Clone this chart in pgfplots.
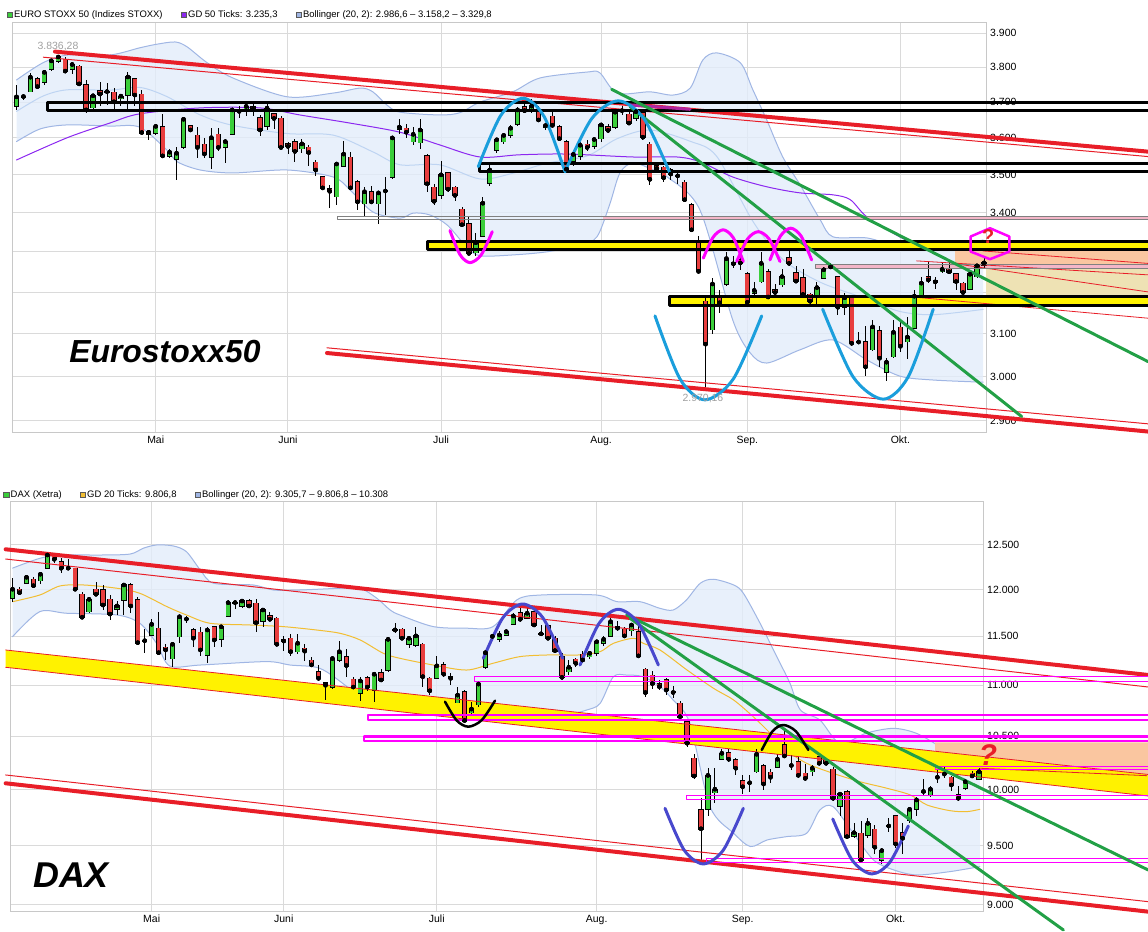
\documentclass[border=0pt]{standalone}
\usepackage{fontspec}
\setmainfont{Liberation Sans}
\usepackage{pgfplots}
\usepackage{pgfplotstable}
\pgfplotsset{compat=1.18}
\usepgfplotslibrary{fillbetween}

\definecolor{cgreen}{RGB}{58,206,58}
\definecolor{cred}{RGB}{232,62,62}
\definecolor{lred}{RGB}{232,30,40}
\definecolor{bandfill}{RGB}{226,236,250}
\definecolor{bandline}{RGB}{160,182,228}
\definecolor{midline}{RGB}{190,212,242}
\definecolor{gdpurple}{RGB}{140,40,240}
\definecolor{gdyellow}{RGB}{242,190,50}
\definecolor{yel}{RGB}{255,242,0}
\definecolor{mag}{RGB}{255,0,255}
\definecolor{tgreen}{RGB}{34,160,70}
\definecolor{lblue}{RGB}{26,158,220}
\definecolor{dblue}{RGB}{72,72,205}
\definecolor{peach}{RGB}{250,198,160}
\definecolor{tan}{RGB}{238,226,180}
\definecolor{pinkf}{RGB}{244,182,200}
\definecolor{gridc}{RGB}{218,218,218}
\definecolor{framec}{RGB}{200,200,200}
\definecolor{leggrey}{RGB}{160,160,160}

\newcommand{\tickfont}{\fontsize{10.5}{12}\selectfont}
\newcommand{\legfont}{\fontsize{9.5}{11}\selectfont}

% Euro Stoxx 50, daily candles (index, open, high, low, close)
\pgfplotstableread{
i o h l c
0 3688 3750 3678 3715
1 3713 3722 3706 3716
2 3730 3784 3728 3771
3 3766 3772 3740 3744
4 3756 3792 3750 3785
5 3794 3823 3790 3819
6 3818 3836 3812 3830
7 3823 3831 3785 3789
8 3794 3812 3780 3808
9 3803 3805 3748 3752
10 3749 3762 3670 3678
11 3684 3720 3682 3718
12 3732 3757 3688 3723
13 3728 3755 3691 3730
14 3728 3739 3673 3701
15 3710 3720 3690 3717
16 3720 3785 3681 3772
17 3766 3770 3690 3720
18 3722 3735 3610 3615
19 3610 3622 3595 3616
20 3614 3640 3607 3632
21 3630 3667 3549 3551
22 3551 3570 3545 3561
23 3542 3575 3486 3558
24 3574 3655 3570 3652
25 3634 3636 3617 3622
26 3607 3630 3545 3574
27 3582 3600 3545 3556
28 3547 3627 3515 3601
29 3610 3627 3565 3574
30 3574 3598 3533 3590
31 3610 3680 3608 3678
32 3676 3688 3654 3674
33 3681 3694 3661 3688
34 3687 3694 3660 3680
35 3656 3665 3605 3622
36 3632 3695 3622 3683
37 3667 3670 3624 3654
38 3654 3662 3570 3574
39 3584 3588 3557 3577
40 3590 3598 3535 3563
41 3571 3598 3560 3584
42 3574 3580 3523 3560
43 3534 3540 3498 3513
44 3495 3497 3462 3465
45 3462 3472 3411 3456
46 3442 3532 3420 3529
47 3524 3591 3520 3556
48 3547 3562 3462 3465
49 3481 3485 3407 3428
50 3424 3468 3392 3455
51 3455 3470 3425 3428
52 3424 3454 3372 3452
53 3455 3495 3394 3457
54 3494 3603 3490 3600
55 3624 3652 3610 3630
56 3627 3640 3600 3616
57 3590 3630 3580 3610
58 3587 3652 3571 3622
59 3552 3555 3455 3476
60 3467 3475 3420 3430
61 3446 3536 3436 3500
62 3505 3507 3455 3462
63 3467 3470 3430 3445
64 3409 3415 3362 3369
65 3372 3390 3292 3296
66 3298 3347 3290 3323
67 3340 3440 3338 3425
68 3477 3530 3470 3513
69 3567 3600 3560 3595
70 3590 3612 3582 3607
71 3607 3635 3600 3627
72 3638 3685 3632 3678
73 3686 3705 3668 3676
74 3677 3708 3668 3689
75 3678 3690 3648 3650
76 3628 3640 3622 3634
77 3660 3678 3632 3635
78 3630 3635 3595 3598
79 3590 3595 3504 3515
80 3536 3560 3525 3555
81 3550 3590 3540 3580
82 3583 3595 3565 3574
83 3577 3600 3570 3596
84 3598 3640 3590 3636
85 3630 3640 3615 3621
86 3630 3680 3625 3672
87 3679 3690 3665 3676
88 3666 3672 3635 3641
89 3655 3680 3648 3673
90 3669 3675 3595 3602
91 3582 3590 3473 3488
92 3524 3535 3505 3517
93 3520 3525 3480 3492
94 3513 3518 3485 3502
95 3499 3510 3475 3497
96 3480 3485 3430 3434
97 3421 3425 3350 3356
98 3323 3340 3247 3251
99 3177 3185 2970 3075
100 3109 3235 3100 3220
101 3188 3205 3150 3174
102 3220 3300 3215 3283
103 3272 3290 3260 3270
104 3280 3300 3255 3272
105 3245 3250 3165 3175
106 3198 3225 3190 3204
107 3226 3300 3222 3271
108 3250 3258 3185 3188
109 3205 3220 3193 3199
110 3218 3258 3213 3238
111 3284 3305 3265 3271
112 3248 3265 3222 3227
113 3235 3256 3188 3194
114 3194 3198 3167 3178
115 3186 3226 3167 3211
116 3235 3262 3232 3255
117 3266 3272 3258 3262
118 3238 3240 3145 3163
119 3163 3198 3145 3186
120 3190 3192 3070 3077
121 3082 3105 3077 3080
122 3081 3117 3000 3022
123 3062 3133 3058 3116
124 3106 3117 3022 3042
125 3010 3042 2990 3033
126 3046 3133 3042 3103
127 3115 3133 3056 3070
128 3081 3140 3040 3092
129 3113 3205 3110 3190
130 3190 3237 3185 3222
131 3237 3275 3222 3230
132 3227 3238 3208 3225
133 3250 3275 3247 3256
134 3256 3275 3247 3250
135 3244 3247 3205 3226
136 3221 3225 3188 3199
137 3207 3250 3205 3244
138 3238 3270 3235 3265
139 3266 3285 3260 3272
}\sxdata

% DAX (Xetra), daily candles
\pgfplotstableread{
i o h l c
0 11906 12126 11870 12005
1 12005 12030 11960 11968
2 12071 12160 12060 12137
3 12115 12140 12020 12044
4 12100 12195 12060 12171
5 12237 12390 12230 12386
6 12375 12390 12300 12338
7 12312 12350 12188 12237
8 12235 12340 12226 12238
9 12237 12240 11995 12005
10 11950 11980 11690 11702
11 11762 11900 11745 11895
12 12005 12088 11930 11950
13 11997 12050 11780 11834
14 11895 11940 11675 11737
15 11787 11880 11725 11823
16 11888 12070 11725 12052
17 12052 12070 11750 11823
18 11888 11920 11410 11434
19 11450 11580 11330 11455
20 11515 11680 11500 11627
21 11584 11755 11325 11330
22 11384 11425 11250 11358
23 11270 11430 11185 11417
24 11497 11715 11430 11708
25 11680 11720 11640 11683
26 11567 11590 11390 11480
27 11543 11600 11300 11358
28 11306 11600 11220 11567
29 11601 11605 11390 11462
30 11469 11605 11390 11601
31 11716 11890 11700 11859
32 11857 11890 11790 11860
33 11823 11890 11800 11877
34 11880 11900 11800 11823
35 11852 11900 11550 11644
36 11662 11800 11600 11780
37 11716 11760 11660 11680
38 11691 11700 11400 11417
39 11469 11500 11350 11451
40 11480 11520 11300 11340
41 11340 11520 11320 11428
42 11375 11420 11240 11345
43 11250 11290 11190 11205
44 11135 11200 11040 11068
45 11025 11030 10850 10998
46 10980 11290 10960 11270
47 11255 11450 11230 11340
48 11290 11370 11080 11198
49 11058 11080 10970 10980
50 10918 11080 10840 11042
51 11074 11090 10940 10980
52 10951 11120 10830 11110
53 11125 11160 11030 11051
54 11152 11480 11130 11469
55 11565 11640 11530 11568
56 11574 11590 11460 11480
57 11417 11500 11380 11480
58 11410 11600 11390 11505
59 11417 11430 10980 11085
60 11068 11085 10900 10943
61 11068 11300 11060 11195
62 11205 11230 11080 11110
63 11085 11120 11000 11068
64 10825 10980 10820 10900
65 10934 10950 10630 10650
66 10727 10830 10700 10762
67 10805 11030 10780 11010
68 11180 11340 11160 11330
69 11495 11520 11470 11500
70 11469 11560 11440 11515
71 11515 11580 11500 11550
72 11630 11745 11620 11716
73 11752 11800 11660 11680
74 11691 11800 11680 11745
75 11762 11780 11600 11620
76 11523 11620 11500 11527
77 11609 11620 11460 11480
78 11480 11500 11330 11351
79 11290 11330 11050 11078
80 11135 11250 11100 11180
81 11263 11280 11180 11220
82 11314 11350 11220 11255
83 11290 11350 11260 11324
84 11324 11460 11300 11444
85 11427 11500 11400 11469
86 11505 11700 11490 11655
87 11603 11660 11560 11586
88 11574 11600 11480 11505
89 11560 11640 11500 11620
90 11550 11610 11280 11297
91 11160 11170 10880 10925
92 11100 11140 10960 11015
93 11015 11050 10950 10985
94 11051 11070 10900 10951
95 10930 10990 10870 10926
96 10820 10840 10670 10688
97 10640 10660 10400 10432
98 10290 10330 10100 10124
99 9815 9920 9338 9648
100 9821 10200 9760 10130
101 9971 10200 9880 10003
102 10280 10380 10270 10336
103 10342 10380 10250 10280
104 10273 10290 10130 10196
105 10078 10130 9960 10025
106 10060 10130 9980 10062
107 10164 10380 10150 10327
108 10220 10240 10000 10050
109 10158 10190 10060 10112
110 10205 10330 10200 10280
111 10415 10560 10300 10311
112 10220 10320 10180 10222
113 10257 10300 10110 10130
114 10149 10240 10090 10102
115 10164 10230 10120 10196
116 10305 10320 10230 10242
117 10273 10290 10230 10242
118 10186 10210 9900 9920
119 9850 9980 9760 9958
120 9980 9995 9560 9579
121 9585 9700 9570 9614
122 9609 9720 9350 9378
123 9594 9740 9570 9696
124 9644 9680 9430 9487
125 9378 9480 9340 9458
126 9670 9740 9620 9673
127 9764 9770 9480 9515
128 9614 9700 9430 9565
129 9726 9840 9700 9821
130 9821 9930 9760 9905
131 9978 10100 9950 9982
132 9951 10030 9930 10003
133 10110 10190 10060 10112
134 10140 10210 10110 10142
135 10112 10120 9990 10041
136 9951 10030 9900 9920
137 10012 10100 10000 10071
138 10149 10170 10110 10124
139 10094 10200 10090 10164
}\daxdata

\pgfplotsset{
  wick/.style={forget plot, only marks, mark=none,
    error bars/y dir=both, error bars/y explicit, error bars/error mark=none,
    error bars/error bar style={draw=black, line width=0.8bp}},
  bodyline/.style={forget plot, only marks, mark=none,
    error bars/y dir=both, error bars/y explicit, error bars/error mark=none,
    error bars/error bar style={draw=black, line width=5.3bp}},
  upbody/.style={forget plot, only marks, mark=none,
    restrict expr to domain={\thisrow{c}-\thisrow{o}}{0.5:100000},
    error bars/y dir=both, error bars/y explicit, error bars/error mark=none,
    error bars/error bar style={draw=cgreen, line width=3.7bp}},
  downbody/.style={forget plot, only marks, mark=none,
    restrict expr to domain={\thisrow{o}-\thisrow{c}}{0.5:100000},
    error bars/y dir=both, error bars/y explicit, error bars/error mark=none,
    error bars/error bar style={draw=cred, line width=3.7bp}},
  ann/.style={forget plot, line join=round, line cap=round},
}

\begin{document}
\begin{tikzpicture}

% ---------------- Euro Stoxx 50 ----------------
\begin{axis}[
  at={(12bp,499bp)}, anchor=south west, scale only axis, width=974bp, height=410bp,
  clip=false, enlargelimits=false, ymode=log,
  xmin=-0.6466, xmax=139.3, ymin=2873.2, ymax=3930.8,
  axis line style={draw=framec, line width=1bp},
  grid=major, major grid style={draw=gridc, line width=1bp},
  tick style={draw=none}, major tick length=0pt,
  xtick={20,39,61,84,105,127},
  xticklabels={Mai,Juni,Juli,Aug.,Sep.,Okt.},
  ytick={2900,3000,3100,3200,3300,3400,3500,3600,3700,3800,3900},
  yticklabels={2.900,3.000,3.100,3.200,3.300,3.400,3.500,3.600,3.700,3.800,3.900},
  yticklabel pos=right,
  xticklabel style={font=\tickfont, inner sep=0pt, yshift=-3bp},
  yticklabel style={font=\tickfont, inner sep=0pt, xshift=4bp},
  legend columns=3,
  legend style={at={(-0.0054,1.0195)}, anchor=west, draw=none, fill=none, inner sep=0pt,
    font=\legfont, /tikz/every even column/.append style={column sep=17bp},
    nodes={inner sep=1.3bp}},
  legend image code/.code={\draw[#1, line width=0.7bp] (0bp,-2.6bp) rectangle (5.2bp,2.6bp);},
]
\addlegendimage{fill=cgreen, draw=black!65}
\addlegendentry{EURO STOXX 50 (Indizes STOXX)}
\addlegendimage{fill=gdpurple, draw=black!65}
\addlegendentry{GD 50 Ticks: 3.235,3}
\addlegendimage{fill=bandline, draw=black!65}
\addlegendentry{Bollinger (20, 2): 2.986,6 -- 3.158,2 -- 3.329,8}

% Bollinger band
\addplot[ann, name path=su, draw=bandline, line width=1bp, smooth] coordinates {
(0,3763) (3.8,3813) (7.3,3836) (13.4,3836) (17.7,3857) (20.2,3868) (22.8,3874) (24.5,3860)
(27.4,3813) (31.1,3769) (38.9,3715) (45.5,3726) (49.4,3740) (51.2,3729) (53.2,3692) (55.1,3672)
(60.8,3664) (63.7,3670) (66.6,3700) (71.3,3729) (75.2,3769) (82.0,3786) (83.8,3784) (86.3,3726)
(91.0,3729) (94.3,3720) (96.8,3740) (98.6,3821) (100.6,3842) (104.0,3813) (105.8,3735) (107.8,3650)
(110.1,3548) (112.6,3473) (115.5,3381) (117.3,3338) (122.2,3335) (126.9,3312) (130.8,3305)
(134.1,3312) (138.9,3330)};
\addplot[ann, name path=sl, draw=bandline, line width=1bp, smooth] coordinates {
(0,3590) (3.4,3625) (7.3,3636) (13.4,3633) (17.7,3630) (21.6,3567) (23.1,3535) (26.4,3513)
(31.1,3505) (38.9,3513) (45.5,3494) (47.9,3460) (51.2,3402) (55.1,3386) (57.0,3399) (59.4,3394)
(61.9,3368) (64.7,3312) (66.6,3290) (71.3,3292) (76.2,3300) (81.0,3317) (83.4,3338) (85.2,3420)
(86.7,3505) (88.6,3532) (91.5,3513) (93.5,3494) (98.2,3407) (102.9,3133) (105.4,3055) (107.8,3031)
(112.6,3062) (117.3,3085) (122.2,3038) (126.9,3001) (131.7,2992) (138.9,2987)};
\addplot[forget plot, fill=bandfill, fill opacity=0.8] fill between[of=su and sl];
\addplot[ann, draw=midline, line width=1bp, smooth] coordinates {
(0,3674) (3.8,3717) (7.3,3735) (13.4,3734) (17.7,3742) (21.6,3716) (26.4,3664) (31.1,3635)
(38.9,3612) (45.5,3608) (51.2,3562) (55.1,3527) (60.8,3527) (66.6,3489) (71.3,3504) (76.2,3531)
(82.0,3551) (86.3,3598) (91.0,3622) (96.8,3591) (100.6,3550) (105.8,3378) (110.1,3281)
(115.5,3224) (122.2,3183) (126.9,3153) (131.7,3145) (138.9,3158)};
\addplot[ann, draw=gdpurple, line width=1bp, smooth] coordinates {
(0,3540) (7.3,3601) (13.4,3641) (17.7,3667) (26.4,3684) (35.0,3684) (40.7,3664) (47.9,3641)
(55.1,3616) (60.8,3581) (66.6,3548) (72.3,3554) (79.1,3556) (88.6,3548) (94.9,3548) (98.2,3535)
(102.9,3494) (107.8,3468) (112.6,3452) (117.3,3447) (119.8,3434) (122.2,3389) (126.9,3338)
(131.7,3298) (136.6,3255) (138.9,3237)};

% shaded zones
\addplot[ann, fill=peach, draw=none] coordinates {(134.84,3304.0) (162.57,3304.0) (162.57,3268.9) (134.84,3268.9)} -- cycle;
\addplot[ann, fill=tan, draw=none] coordinates {(139.3,3258.9) (162.57,3258.9) (162.57,3193.0) (139.3,3193.0)} -- cycle;
\addplot[ann, fill=pinkf, draw=none] coordinates {(84.27,3390.0) (162.57,3390.0) (162.57,3381.4) (84.27,3381.4)} -- cycle;
\addplot[ann, fill=pinkf, draw=none] coordinates {(114.73,3267.1) (162.57,3267.1) (162.57,3258.9) (114.73,3258.9)} -- cycle;
\addplot[ann, fill=yel, draw=none] coordinates {(59.08,3325.1) (162.57,3325.1) (162.57,3305.5) (59.08,3305.5)} -- cycle;
\addplot[ann, fill=yel, draw=none] coordinates {(93.79,3188.2) (162.57,3188.2) (162.57,3166.8) (93.79,3166.8)} -- cycle;

% candles
\addplot[wick] table[x=i, y=c, y error plus expr=\thisrow{h}-\thisrow{c}, y error minus expr=\thisrow{c}-\thisrow{l}] {\sxdata};
\addplot[bodyline] table[x=i, y=c, y error plus expr={max(\thisrow{o},\thisrow{c})*1.0005-\thisrow{c}}, y error minus expr={\thisrow{c}-min(\thisrow{o},\thisrow{c})*0.9995}] {\sxdata};
\addplot[upbody] table[x=i, y=c, y error plus expr=0, y error minus expr=\thisrow{c}-\thisrow{o}] {\sxdata};
\addplot[downbody] table[x=i, y=c, y error plus expr=\thisrow{o}-\thisrow{c}, y error minus expr=0] {\sxdata};

% channel lines
\addplot[ann, draw=lred, line width=4bp] coordinates {(5.53,3845.5) (162.57,3562.6)};
\addplot[ann, draw=lred, line width=1bp] coordinates {(3.85,3829.1) (162.57,3549.0)};
\addplot[ann, draw=lred, line width=4bp] coordinates {(44.61,3054.3) (162.57,2876.5)};
\addplot[ann, draw=lred, line width=1bp] coordinates {(44.61,3066.5) (162.57,2893.4)};
\addplot[ann, draw=lred, line width=0.8bp] coordinates {(138.86,3302.3) (162.57,3270.9)};
\addplot[ann, draw=lred, line width=0.8bp] coordinates {(129.34,3277.1) (162.57,3242.2)};
\addplot[ann, draw=lred, line width=0.8bp] coordinates {(135.09,3269.6) (162.57,3200.4)};
\addplot[ann, draw=lred, line width=0.8bp] coordinates {(129.81,3186.5) (162.57,3136.7)};
% horizontal zones
\addplot[ann, draw=gray, line width=1bp] coordinates {(162.57,3390.0) (46.19,3390.0) (46.19,3381.4) (162.57,3381.4)};
\addplot[ann, draw=gray, line width=1bp] coordinates {(162.57,3267.1) (114.73,3267.1) (114.73,3258.9) (162.57,3258.9)};
\addplot[ann, draw=black, line width=3bp, line cap=butt] coordinates {(162.57,3699.7) (4.43,3699.7) (4.43,3677.1) (162.57,3677.1)};
\addplot[ann, draw=black, line width=3bp, line cap=butt] coordinates {(162.57,3531.2) (66.59,3531.2) (66.59,3509.6) (162.57,3509.6)};
\addplot[ann, draw=black, line width=3bp, line cap=butt] coordinates {(162.57,3325.1) (59.08,3325.1) (59.08,3305.5) (162.57,3305.5)};
\addplot[ann, draw=black, line width=3bp, line cap=butt] coordinates {(162.57,3188.2) (93.79,3188.2) (93.79,3166.8) (162.57,3166.8)};
% trend lines
\addplot[ann, draw=gdpurple!60!lred, line width=3bp] coordinates {(88.15,3692.1) (96.77,3679.9)};
\addplot[ann, draw=tgreen, line width=3bp] coordinates {(85.52,3736.6) (162.57,3034.5)};
\addplot[ann, draw=tgreen, line width=3bp] coordinates {(88.15,3687.3) (144.43,2909.6)};
% pattern sketches
\addplot[ann, draw=lblue, line width=3bp, smooth] coordinates {(66.35,3522.0) (69.58,3662.8) (72.82,3711.0) (75.82,3659.2) (78.81,3508.6)};
\addplot[ann, draw=lblue, line width=3bp, smooth] coordinates {(78.81,3508.6) (82.64,3653.6) (86.47,3703.4) (90.18,3652.5) (93.89,3504.3)};
\addplot[ann, draw=lblue, line width=3bp, smooth] coordinates {(91.74,3142.2) (95.33,2994.6) (98.92,2946.9) (103.0,2994.6) (107.07,3142.2)};
\addplot[ann, draw=lblue, line width=3bp, smooth] coordinates {(115.83,3158.4) (120.19,2999.6) (124.54,2948.5) (128.13,2999.6) (131.72,3158.4)};
\addplot[ann, draw=mag, line width=3bp, smooth] coordinates {(62.28,3353.9) (63.72,3292.9) (65.16,3272.9) (66.77,3292.2) (68.36,3351.3)};
\addplot[ann, draw=mag, line width=3bp, smooth] coordinates {(98.68,3283.9) (100.11,3337.5) (101.55,3355.7) (102.99,3335.5) (104.43,3275.4)};
\addplot[ann, draw=mag, line width=3bp, smooth] coordinates {(103.48,3275.4) (105.03,3332.2) (106.58,3351.3) (108.14,3332.2) (109.70,3275.4)};
\addplot[ann, draw=mag, line width=3bp, smooth] coordinates {(108.26,3279.6) (109.75,3339.8) (111.24,3360.0) (112.74,3339.8) (114.25,3279.6)};
\addplot[ann, draw=mag, line width=2.5bp] coordinates {(137.10,3338.6) (139.87,3360.0) (142.64,3338.6) (142.64,3300.5) (139.87,3281.3) (137.10,3300.5)} -- cycle;

\node[font=\fontsize{20}{20}\selectfont\bfseries, text=lred, inner sep=0pt] at (axis cs:139.6,3338) {?};
\node[font=\tickfont, text=leggrey] at (axis cs:5.96,3862) {3.836,28};
\node[font=\tickfont, text=leggrey] at (axis cs:98.63,2949) {2.970,16};
\node[font=\fontsize{32}{34}\selectfont\bfseries\itshape] at (axis cs:21.34,3057) {Eurostoxx50};
\end{axis}

% ---------------- DAX ----------------
\begin{axis}[
  at={(10bp,20bp)}, anchor=south west, scale only axis, width=973bp, height=410bp,
  clip=false, enlargelimits=false, ymode=log,
  xmin=-0.374, xmax=139.56, ymin=8942.6, ymax=13000,
  axis line style={draw=framec, line width=1bp},
  grid=major, major grid style={draw=gridc, line width=1bp},
  tick style={draw=none}, major tick length=0pt,
  xtick={20,39,61,84,105,127},
  xticklabels={Mai,Juni,Juli,Aug.,Sep.,Okt.},
  ytick={9000,9500,10000,10500,11000,11500,12000,12500},
  yticklabels={9.000,9.500,10.000,10.500,11.000,11.500,12.000,12.500},
  yticklabel pos=right,
  xticklabel style={font=\tickfont, inner sep=0pt, yshift=-3bp},
  yticklabel style={font=\tickfont, inner sep=0pt, xshift=4bp},
  legend columns=3,
  legend style={at={(-0.0069,1.0171)}, anchor=west, draw=none, fill=none, inner sep=0pt,
    font=\legfont, /tikz/every even column/.append style={column sep=17bp},
    nodes={inner sep=1.3bp}},
  legend image code/.code={\draw[#1, line width=0.7bp] (0bp,-2.6bp) rectangle (5.2bp,2.6bp);},
]
\addlegendimage{fill=cgreen, draw=black!65}
\addlegendentry{DAX (Xetra)}
\addlegendimage{fill=gdyellow, draw=black!65}
\addlegendentry{GD 20 Ticks: 9.806,8}
\addlegendimage{fill=bandline, draw=black!65}
\addlegendentry{Bollinger (20, 2): 9.305,7 -- 9.806,8 -- 10.308}

\addplot[ann, name path=du, draw=bandline, line width=1bp, smooth] coordinates {
(0,12239) (3.9,12349) (6.8,12386) (12.6,12386) (16.9,12397) (18.8,12463) (20.7,12500) (23.1,12489)
(25.0,12424) (27.0,12218) (28.9,12071) (34.6,12052) (37.5,11997) (41.3,11997) (47.1,12016)
(50.0,12016) (52.4,11906) (54.3,11780) (55.7,11727) (60.5,11603) (65.3,11586) (69.1,11603)
(72.5,11888) (75.9,11942) (84.0,11942) (86.9,11870) (90.2,11870) (93.1,11798) (95.0,11780)
(96.9,11888) (98.9,12071) (100.8,12115) (103.7,12052) (105.1,11961) (107.5,11638) (109.9,11290)
(111.8,11018) (113.3,10753) (116.1,10655) (119.0,10430) (122.8,10529) (126.7,10574) (130.0,10526)
(133.4,10398) (136.8,10257) (139.1,10304)};
\addplot[ann, name path=dl, draw=bandline, line width=1bp, smooth] coordinates {
(0,11497) (3.9,11762) (7.8,11745) (15.0,11727) (18.3,11638) (20.7,11427) (22.6,11193) (27.0,11203)
(36.5,11238) (39.9,11203) (44.2,11169) (48.1,10984) (50.9,10818) (53.3,10802) (55.7,10851)
(60.5,10753) (65.3,10672) (71.1,10655) (75.9,10672) (79.7,10704) (82.6,10753) (84.5,10818)
(86.4,11084) (88.3,11101) (90.7,11084) (93.1,10984) (95.0,10851) (97.4,10623) (100.3,9845)
(103.7,9609) (106.1,9493) (108.5,9550) (111.3,9579) (114.2,9609) (116.1,9815) (118.0,9845)
(120.9,9609) (123.8,9378) (126.7,9293) (130.0,9250) (134.8,9278) (139.1,9321)};
\addplot[forget plot, fill=bandfill, fill opacity=0.8] fill between[of=du and dl];
\addplot[ann, draw=gdyellow, line width=1bp, smooth] coordinates {
(0,11870) (3.9,11942) (6.8,12041) (10.2,12052) (15.0,12016) (18.3,11961) (22.2,11816) (25.0,11727)
(28.4,11638) (34.1,11620) (38.9,11603) (43.7,11567) (47.1,11532) (50.0,11462) (53.3,11324)
(55.7,11272) (60.5,11203) (65.3,11152) (69.1,11221) (73.0,11290) (77.3,11307) (81.6,11307)
(84.5,11341) (86.4,11427) (89.3,11480) (90.7,11427) (93.1,11358) (97.0,11152) (100.8,10968)
(103.7,10851) (106.5,10688) (108.5,10558) (111.3,10367) (114.2,10242) (118.0,10149) (121.9,10071)
(125.7,10012) (129.1,9951) (131.5,9860) (134.8,9809) (137.2,9800) (139.1,9821)};

% shaded zones
\addplot[ann, fill=yel, draw=none] coordinates {(-1.0,11358) (163.30,10138.4) (163.30,9941.3) (-1.0,11180)} -- cycle;
\addplot[ann, fill=peach, draw=none] coordinates {(132.66,10440.5) (163.30,10440.5) (163.30,10138.4) (132.66,10355.1)} -- cycle;

% candles
\addplot[wick] table[x=i, y=c, y error plus expr=\thisrow{h}-\thisrow{c}, y error minus expr=\thisrow{c}-\thisrow{l}] {\daxdata};
\addplot[bodyline] table[x=i, y=c, y error plus expr={max(\thisrow{o},\thisrow{c})*1.0006-\thisrow{c}}, y error minus expr={\thisrow{c}-min(\thisrow{o},\thisrow{c})*0.9994}] {\daxdata};
\addplot[upbody] table[x=i, y=c, y error plus expr=0, y error minus expr=\thisrow{c}-\thisrow{o}] {\daxdata};
\addplot[downbody] table[x=i, y=c, y error plus expr=\thisrow{o}-\thisrow{c}, y error minus expr=0] {\daxdata};

% channel lines
\addplot[ann, draw=lred, line width=4bp] coordinates {(-1.0,12451) (163.30,11101.8)};
\addplot[ann, draw=lred, line width=1bp] coordinates {(-1.0,12341) (163.30,10980.9)};
\addplot[ann, draw=lred, line width=4bp] coordinates {(-1.0,10057.1) (163.30,8945.5)};
\addplot[ann, draw=lred, line width=1bp] coordinates {(-1.0,10133.7) (163.30,9027.4)};
\addplot[ann, draw=lred, line width=0.8bp] coordinates {(-1.0,11358) (163.30,10138.4)};
\addplot[ann, draw=lred, line width=0.8bp] coordinates {(-1.0,11180) (163.30,9941.3)};
\addplot[ann, draw=lred, line width=0.8bp] coordinates {(139.13,10195.8) (163.11,10127.3)};
% horizontal zones
\addplot[ann, draw=mag, line width=1bp, line cap=butt] coordinates {(163.30,11084.5) (66.50,11084.5) (66.50,11034.1) (163.30,11034.1)};
\addplot[ann, draw=mag, line width=2.5bp, line cap=butt] coordinates {(163.30,10703.9) (51.11,10703.9) (51.11,10655.1) (163.30,10655.1)};
\addplot[ann, draw=mag, line width=2.5bp, line cap=butt] coordinates {(163.30,10495.9) (50.54,10495.9) (50.54,10452.9) (163.30,10452.9)};
\addplot[ann, draw=mag, line width=1bp, line cap=butt] coordinates {(163.30,9941.3) (96.95,9941.3) (96.95,9905.0) (163.30,9905.0)};
\addplot[ann, draw=mag, line width=1bp, line cap=butt] coordinates {(163.30,9392.1) (99.73,9392.1) (99.73,9358.0) (163.30,9358.0)};
\addplot[ann, draw=mag, line width=1bp, line cap=butt] coordinates {(163.30,10210.5) (132.66,10210.5) (132.66,10182.7) (163.30,10182.7)};
% trend lines
\addplot[ann, draw=tgreen, line width=3bp] coordinates {(88.32,11726.6) (163.30,9292.5)};
\addplot[ann, draw=tgreen, line width=3bp] coordinates {(88.80,11691.3) (151.12,8797.2)};
% pattern sketches
\addplot[ann, draw=dblue, line width=3bp, smooth] coordinates {(67.70,11272.3) (70.53,11698.8) (73.36,11844.8) (76.24,11698.8) (79.12,11272.3)};
\addplot[ann, draw=dblue, line width=3bp, smooth] coordinates {(81.61,11203.5) (84.36,11639.1) (87.11,11787.7) (89.99,11639.1) (92.87,11203.5)};
\addplot[ann, draw=dblue, line width=3bp, smooth] coordinates {(93.83,9830.0) (96.58,9462.1) (99.34,9343.5) (102.21,9462.1) (105.09,9830.0)};
\addplot[ann, draw=dblue, line width=3bp, smooth] coordinates {(117.95,9734.9) (120.75,9375.5) (123.56,9258.7) (126.19,9360.5) (128.82,9672.9)};
\addplot[ann, draw=black, line width=2.5bp, smooth] coordinates {(62.19,10834.5) (63.86,10650.8) (65.54,10590.2) (67.46,10653.3) (69.38,10844.5)};
\addplot[ann, draw=black, line width=2.5bp, smooth] coordinates {(107.74,10367.5) (109.29,10546.3) (110.84,10606.6) (112.64,10546.3) (114.44,10367.5)};

\node[font=\fontsize{30}{30}\selectfont\bfseries\itshape, text=lred] at (axis cs:140.28,10320) {?};
\node[font=\fontsize{36}{38}\selectfont\bfseries\itshape] at (axis cs:8.40,9250) {DAX};
\end{axis}
\pgfresetboundingbox
\useasboundingbox (0,0) rectangle (1148bp,932bp);
\end{tikzpicture}
\end{document}
